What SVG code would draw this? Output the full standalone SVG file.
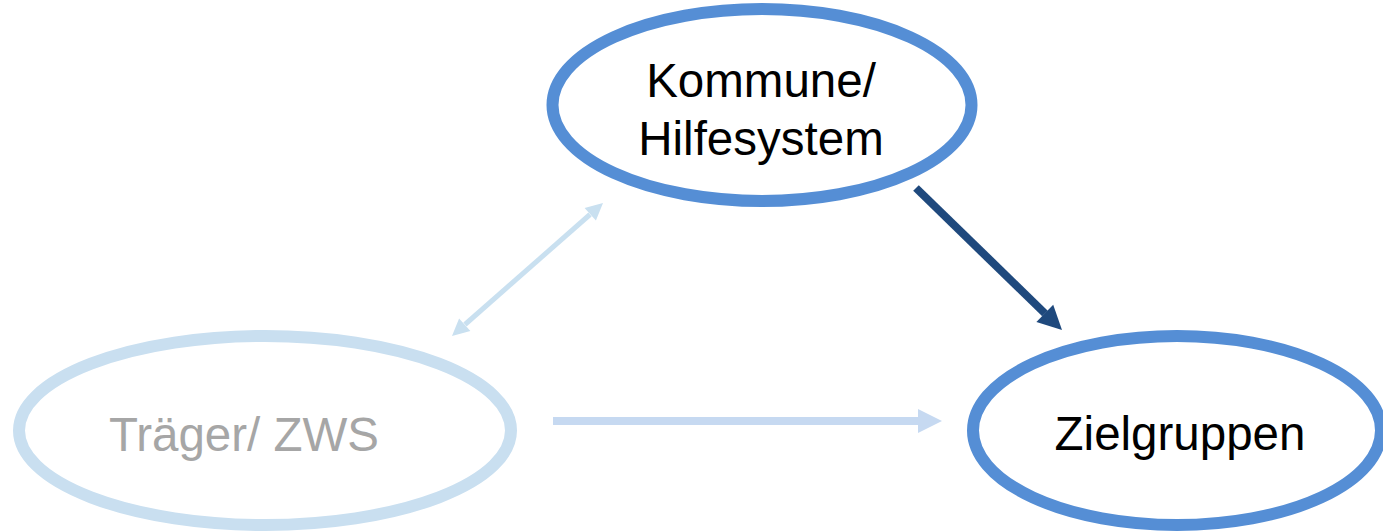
<svg xmlns="http://www.w3.org/2000/svg" width="1383" height="532" viewBox="0 0 1383 532">
<style>
.txt{font-family:"Liberation Sans",Arial,sans-serif;font-size:47.5px;text-anchor:middle}
.main{fill:#ffffff;stroke:#558ed5;stroke-width:12}
.faint{fill:#ffffff;stroke:#c9dff0;stroke-width:12}
</style>
<rect width="1383" height="532" fill="#ffffff"/>
<g id="connectors">
<line x1="916" y1="188" x2="1045" y2="313.5" stroke="#1f497d" stroke-width="8"/>
<polygon points="1062,330 1036.4,321.9 1053.2,304.7" fill="#1f497d"/>
<line x1="465" y1="324.5" x2="590" y2="214.5" stroke="#c9e0f0" stroke-width="5"/>
<polygon points="603,203 595.9,220.6 584.6,207.9" fill="#c9e0f0"/>
<polygon points="452,336 470.4,331.1 459.1,318.4" fill="#c9e0f0"/>
<line x1="553" y1="421" x2="919" y2="421" stroke="#c6d9f1" stroke-width="8"/>
<polygon points="918,409 942,421 918,433" fill="#c6d9f1"/>
</g>
<g id="kommune">
<ellipse class="main" cx="762" cy="105" rx="209.5" ry="96"/>
<text class="txt" x="761" y="97" fill="#000000">Kommune/</text>
<text class="txt" x="761" y="155" fill="#000000">Hilfesystem</text>
</g>
<g id="traeger">
<ellipse class="faint" cx="265" cy="430.5" rx="246" ry="94.5"/>
<text class="txt" x="244" y="451" fill="#a6a6a6">Träger/ ZWS</text>
</g>
<g id="zielgruppen">
<ellipse class="main" cx="1177" cy="430.5" rx="204" ry="94.5"/>
<text class="txt" x="1180" y="450" fill="#000000">Zielgruppen</text>
</g>
</svg>
